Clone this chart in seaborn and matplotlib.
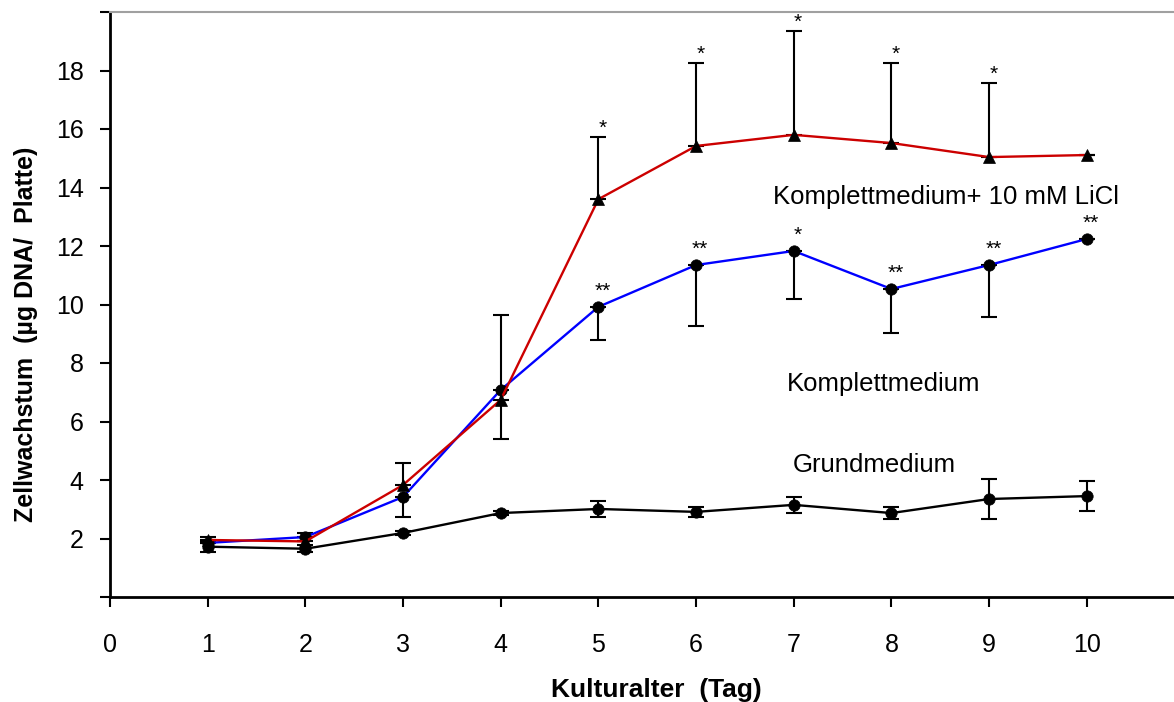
import matplotlib
matplotlib.use("Agg")
import matplotlib.pyplot as plt
import numpy as np
import pandas as pd
import seaborn as sns

# Culture age (days)
days = [1, 2, 3, 4, 5, 6, 7, 8, 9, 10]

# Cell growth (µg DNA / plate)
grund = [1.72, 1.65, 2.19, 2.87, 3.01, 2.91, 3.15, 2.87, 3.35, 3.45]
grund_err = [0.18, 0.12, 0.08, 0.08, 0.27, 0.17, 0.27, 0.20, 0.70, 0.50]

komplett = [1.85, 2.05, 3.42, 7.08, 9.92, 11.35, 11.83, 10.53, 11.35, 12.24]
komplett_err_low = [0.0, 0.0, 0.69, 1.68, 1.13, 2.09, 1.64, 1.50, 1.78, 0.0]
komplett_err_up = [0.0, 0.15, 0.0, 0.0, 0.0, 0.0, 0.0, 0.0, 0.0, 0.0]

licl = [1.95, 1.90, 3.83, 6.74, 13.60, 15.42, 15.80, 15.52, 15.04, 15.11]
licl_err_up = [0.10, 0.0, 0.74, 2.90, 2.13, 2.84, 3.55, 2.74, 2.53, 0.0]

# Significance marks
licl_sig = ["", "", "", "", "*", "*", "*", "*", "*", ""]
komplett_sig = ["", "", "", "", "**", "**", "*", "**", "**", "**"]

series_labels = ["Grundmedium", "Komplettmedium", "Komplettmedium+ 10 mM LiCl"]

sns.set_style("white")
plt.rcParams["font.family"] = ["Liberation Sans", "DejaVu Sans"]
plt.rcParams["text.color"] = "black"

W, H = 1174, 702
fig = plt.figure(figsize=(W / 100, H / 100), dpi=100)
ax = fig.add_axes([110 / W, 105 / H, 1094 / W, 585 / H])

df = pd.DataFrame({
    "Tag": days * 3,
    "Wert": grund + komplett + licl,
    "Medium": [series_labels[0]] * 10 + [series_labels[1]] * 10 + [series_labels[2]] * 10,
})

err_kw = dict(fmt="none", ecolor="black", elinewidth=1.5, capsize=5.5, capthick=1.5, zorder=2)

# error bars
ax.errorbar(days, grund, yerr=grund_err, **err_kw)
ax.errorbar(days, komplett, yerr=[komplett_err_low, komplett_err_up], **err_kw)
ax.errorbar(days, licl, yerr=[np.zeros(len(days)), licl_err_up], **err_kw)

line_styles = [
    (series_labels[0], "black", "o", 8.2),
    (series_labels[1], "#0000FF", "o", 8.2),
    (series_labels[2], "#CC0000", "^", 8.5),
]
for name, col, mk, ms in line_styles:
    sub = df[df["Medium"] == name]
    sns.lineplot(data=sub, x="Tag", y="Wert", ax=ax, color=col, linewidth=1.7,
                 marker=mk, markersize=ms, markerfacecolor="black",
                 markeredgecolor="black", markeredgewidth=0.5, zorder=3,
                 legend=False)

# significance asterisks
for x, y, e, s in zip(days, licl, licl_err_up, licl_sig):
    if s:
        ax.annotate(s, (x, y + e), xytext=(3, 2), textcoords="offset points",
                    ha="center", va="baseline", fontsize=15, color="black")
for x, y, s in zip(days, komplett, komplett_sig):
    if s:
        ax.annotate(s, (x, y), xytext=(3, 7), textcoords="offset points",
                    ha="center", va="baseline", fontsize=15, color="black")

# series labels
ax.text(6.79, 13.68, series_labels[2], ha="left", va="center", fontsize=18.5, color="black")
ax.text(6.93, 7.28, series_labels[1], ha="left", va="center", fontsize=18.5, color="black")
ax.text(6.99, 4.51, series_labels[0], ha="left", va="center", fontsize=18.5, color="black")

ax.set_xlim(0, 11.2)
ax.set_ylim(0, 20)
ax.set_xticks(range(0, 11))
ax.set_xticklabels([str(i) for i in range(0, 11)])
ax.set_yticks(range(0, 21, 2))
ax.set_yticklabels(["" if v in (0, 20) else str(v) for v in range(0, 21, 2)])
ax.tick_params(axis="both", direction="out", length=7, width=1.5, colors="black",
               labelcolor="black", labelsize=18, bottom=True, left=True)
ax.tick_params(axis="x", pad=19)
ax.tick_params(axis="y", pad=12)
ax.set_xlabel("")
ax.set_ylabel("")

for side in ("left", "bottom"):
    ax.spines[side].set_color("black")
    ax.spines[side].set_linewidth(2)
ax.spines["top"].set_color("#A0A0A0")
ax.spines["top"].set_linewidth(1.5)
ax.spines["right"].set_visible(False)

fig.text(656 / W, 1 - 690 / H, "Kulturalter  (Tag)", ha="center", va="center",
         fontsize=19, fontweight="bold", color="black")
fig.text(26 / W, 1 - 334 / H, "Zellwachstum  (µg DNA/  Platte)", ha="center",
         va="center", rotation=90, fontsize=18, fontweight="bold", color="black")

fig.savefig("out.png", dpi=100)
